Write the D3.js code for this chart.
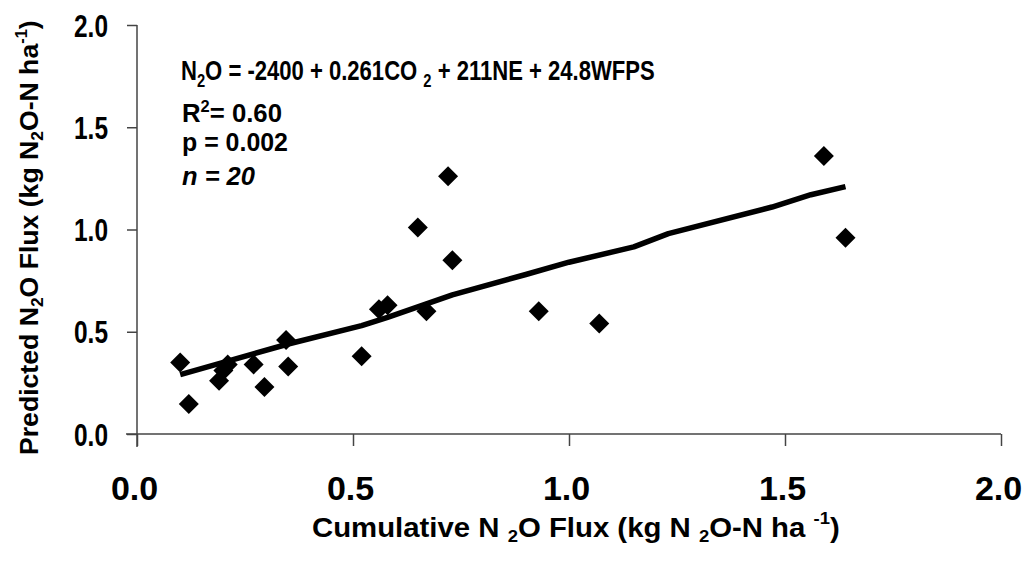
<!DOCTYPE html>
<html><head><meta charset="utf-8">
<script src="https://cdn.jsdelivr.net/npm/d3@7"></script>
<style>
html,body{margin:0;padding:0;background:#fff;}
text{font-family:"Liberation Sans",Arial,sans-serif;font-weight:bold;fill:#000;}
</style></head>
<body><svg id="c" width="1024" height="569"></svg>
<script>
// Observed cumulative N2O flux (x) and predicted N2O flux (y)
const observed  = [0.10,0.12,0.19,0.20,0.21,0.27,0.295,0.345,0.35,0.52,0.56,0.58,0.65,0.67,0.72,0.73,0.93,1.07,1.59,1.64];
const predicted = [0.35,0.147,0.26,0.31,0.34,0.34,0.23,0.46,0.33,0.38,0.61,0.63,1.01,0.60,1.26,0.85,0.60,0.54,1.36,0.96];
// Fitted model line
const fitX = [0.10,0.20,0.35,0.52,0.58,0.73,0.90,1.00,1.15,1.23,1.47,1.56,1.64];
const fitY = [0.29,0.35,0.44,0.53,0.57,0.68,0.78,0.84,0.915,0.98,1.11,1.17,1.21];
const xTicks = [0,0.5,1.0,1.5,2.0];
const yTicks = [0,0.5,1.0,1.5,2.0];

const svg = d3.select("#c");
const x = d3.scaleLinear().domain([0,2]).range([137,1001]);
const y = d3.scaleLinear().domain([0,2]).range([434,25]);

function fitWidth(sel, w){
  sel.each(function(){
    const n = this, L = n.getComputedTextLength();
    const base = d3.select(n).attr("data-t") || "";
    d3.select(n).attr("transform", base + ` scale(${w/L},1)`);
  });
}

// axes ticks
const gx = svg.append("g").attr("transform","translate(0,434)")
  .call(d3.axisBottom(x).tickValues(xTicks).tickSize(12).tickFormat(d3.format(".1f")));
gx.select(".domain").remove();
gx.selectAll("line").attr("stroke","#444").attr("stroke-width",1.5);
gx.selectAll("text").attr("y",null).attr("dy",null).attr("x",0)
  .attr("transform","translate(-3,66)").style("font-size","34px").style("font-weight","bold").style("font-family","Liberation Sans, Arial, sans-serif");

const gy = svg.append("g").attr("transform","translate(137,0)")
  .call(d3.axisLeft(y).tickValues(yTicks).tickSize(10).tickFormat(d3.format(".1f")));
gy.select(".domain").remove();
gy.selectAll("line").attr("stroke","#444").attr("stroke-width",1.5);
gy.selectAll("text").attr("x",0).attr("dy",null).attr("y",11)
  .style("font-size","31px").style("font-weight","bold").style("font-family","Liberation Sans, Arial, sans-serif")
  .attr("data-t","translate(-29,0)");
fitWidth(gy.selectAll("text"), 34);

// axis lines
svg.append("line").attr("x1",126).attr("x2",x(2)).attr("y1",434).attr("y2",434).attr("stroke","#444").attr("stroke-width",1.5);
svg.append("line").attr("x1",137).attr("x2",137).attr("y1",y(2)).attr("y2",447).attr("stroke","#444").attr("stroke-width",1.5);

// fitted line
const fit = fitX.map((v,i)=>[v,fitY[i]]);
svg.append("path").datum(fit)
  .attr("d", d3.line().x(d=>x(d[0])).y(d=>y(d[1])))
  .attr("fill","none").attr("stroke","#000").attr("stroke-width",5.5).attr("stroke-linejoin","round");

// points
const pts = observed.map((v,i)=>[v,predicted[i]]);
svg.append("g").selectAll("path").data(pts).join("path")
  .attr("d", d3.symbol(d3.symbolSquare, 200))
  .attr("transform", d=>`translate(${x(d[0])},${y(d[1])}) rotate(45)`)
  .attr("fill","#000");

// annotations
function eqText(px, py, size, w, build){
  const t = svg.append("text").attr("x",0).attr("y",0).style("font-size",size+"px")
    .attr("data-t",`translate(${px},${py})`);
  build(t);
  fitWidth(t, w);
  return t;
}
eqText(181, 80, 27, 474, t=>{
  t.append("tspan").text("N");
  t.append("tspan").attr("dy",7).style("font-size","18px").text("2");
  t.append("tspan").attr("dy",-7).text("O = -2400 + 0.261CO ");
  t.append("tspan").attr("dy",7).style("font-size","18px").text("2");
  t.append("tspan").attr("dy",-7).text(" + 211NE + 24.8WFPS");
});
eqText(182, 122, 25, 100, t=>{
  t.append("tspan").text("R");
  t.append("tspan").attr("dy",-10).style("font-size","16px").text("2");
  t.append("tspan").attr("dy",10).text("= 0.60");
});
eqText(182, 151, 25, 106, t=>{ t.text("p = 0.002"); });
eqText(182, 185, 25, 73, t=>{
  t.append("tspan").style("font-style","italic").text("n");
  t.append("tspan").style("font-style","italic").text(" = 20");
});

// x axis title
eqText(312, 537, 27, 528, t=>{
  t.append("tspan").text("Cumulative N  ");
  t.append("tspan").attr("dy",5).style("font-size","17px").text("2");
  t.append("tspan").attr("dy",-5).text("O Flux (kg N  ");
  t.append("tspan").attr("dy",5).style("font-size","17px").text("2");
  t.append("tspan").attr("dy",-5).text("O-N ha ");
  t.append("tspan").attr("dy",-13).style("font-size","17px").text("-1");
  t.append("tspan").attr("dy",13).text(")");
});

// y axis title
const yt = svg.append("text").attr("x",0).attr("y",0).style("font-size","26px")
  .attr("data-t","translate(38,455) rotate(-90)");
yt.append("tspan").text("Predicted N");
yt.append("tspan").attr("dy",5).style("font-size","17px").text("2");
yt.append("tspan").attr("dy",-5).text("O Flux (kg N");
yt.append("tspan").attr("dy",5).style("font-size","17px").text("2");
yt.append("tspan").attr("dy",-5).text("O-N ha");
yt.append("tspan").attr("dy",-11).style("font-size","16px").text("-1");
yt.append("tspan").attr("dy",11).text(")");
fitWidth(yt, 435);
</script></body></html>
